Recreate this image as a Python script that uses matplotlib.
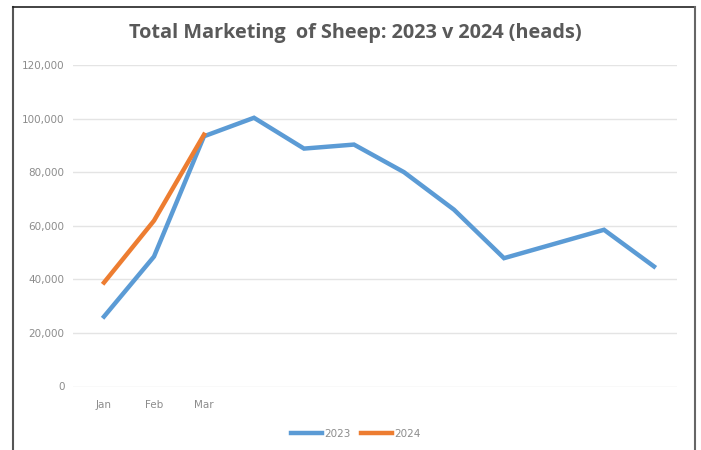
import matplotlib
matplotlib.use("Agg")
import matplotlib.pyplot as plt
from matplotlib.lines import Line2D

# monthly sheep marketings (heads)
months = ["Jan", "Feb", "Mar", "Apr", "May", "Jun", "Jul", "Aug", "Sep", "Oct", "Nov", "Dec"]
tick_labels = ["Jan", "Feb", "Mar", "", "", "", "", "", "", "", "", ""]
sheep_2023 = [26100, 48500, 93400, 100300, 88800, 90300, 80000, 66000, 47900, 53200, 58500, 44800]
sheep_2024 = [38800, 61900, 94000]

blue = "#5B9BD5"
orange = "#ED7D31"
grey_txt = "#8c8c8c"

plt.rcParams["font.family"] = ["Open Sans", "DejaVu Sans"]

fig = plt.figure(figsize=(7.01, 4.5), dpi=100)
ax = fig.add_axes([73 / 701, 1 - 386.5 / 450, (677 - 73) / 701, (386.5 - 65) / 450])

x23 = list(range(len(sheep_2023)))
x24 = list(range(len(sheep_2024)))
ax.plot(x23, sheep_2023, color=blue, lw=3.2, solid_joinstyle="miter", label="2023", zorder=3)
ax.plot(x24, sheep_2024, color=orange, lw=3.2, solid_joinstyle="miter", label="2024", zorder=4)

ax.set_ylim(0, 120000)
ax.set_xlim(-0.62, 11.46)
ax.set_yticks(range(0, 120001, 20000))
ax.set_yticklabels([f"{v:,}" for v in range(0, 120001, 20000)], color=grey_txt,
                   fontsize=7.5, family="DejaVu Sans")
ax.set_xticks(x23)
ax.set_xticklabels(tick_labels, color=grey_txt, fontsize=7.5, family="DejaVu Sans")
ax.tick_params(axis="y", length=0, pad=6)
ax.tick_params(axis="x", length=0, pad=10)
ax.grid(axis="y", color="#e4e4e4", lw=1)
ax.set_axisbelow(True)
for s in ax.spines.values():
    s.set_visible(False)

fig.text(355 / 701, 1 - 33 / 450, "Total Marketing  of Sheep: 2023 v 2024 (heads)",
         ha="center", va="center", fontsize=14.3, fontweight="bold", color="#595959")

# legend below the plot
handles = [Line2D([], [], color=blue, lw=3.2), Line2D([], [], color=orange, lw=3.2)]
fig.legend(handles, ["2023", "2024"], loc="center", bbox_to_anchor=(356 / 701, 1 - 434 / 450),
           ncol=2, frameon=False, prop={"family": "DejaVu Sans", "size": 7.5},
           handlelength=3.0, handletextpad=0.2, columnspacing=1.0, labelcolor=grey_txt)

# chart frame
fig.add_artist(Line2D([13 / 701, 13 / 701], [0, 1 - 7 / 450], color="#555555", lw=1.5,
                      transform=fig.transFigure))
fig.add_artist(Line2D([13 / 701, 695 / 701], [1 - 7 / 450, 1 - 7 / 450], color="#222222", lw=1.2,
                      transform=fig.transFigure))
fig.add_artist(Line2D([695 / 701, 695 / 701], [0, 1 - 7 / 450], color="#666666", lw=1.5,
                      transform=fig.transFigure))

fig.savefig("out.png", dpi=100)
